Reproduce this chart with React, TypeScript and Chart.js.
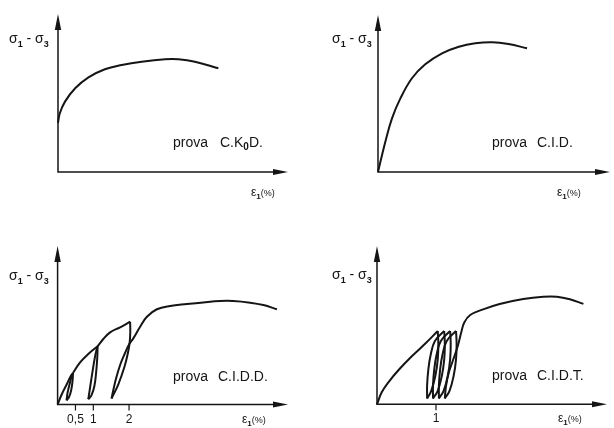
import React, { useEffect, useRef } from "react";
import { Chart, registerables } from "chart.js";

Chart.register(...registerables);

type Pt = [number, number];

// ε1 (%) on x, σ1 - σ3 (arbitrary units) on y

// prova C.K0D.
const ckodCurve: Pt[] = [
  [0, 3.27], [0.05, 3.9], [0.2, 4.69], [0.49, 5.58], [0.87, 6.31], [1.34, 6.85],
  [1.82, 7.13], [2.39, 7.35], [3.06, 7.51], [3.44, 7.51], [3.91, 7.35], [4.58, 6.91],
];

// prova C.I.D.
const cidCurve: Pt[] = [
  [0, 0], [0.21, 2.02], [0.4, 3.58], [0.64, 4.91], [0.97, 6.25],
  [1.35, 7.18], [1.83, 7.91], [2.31, 8.35], [2.78, 8.58], [3.26, 8.65], [3.73, 8.53], [4.26, 8.25],
];

// prova C.I.D.D. : loading, then unload/reload cycles at 0.5, 1 and 2 %
const ciddLoad1: Pt[] = [[0, 0], [0.12, 0.7], [0.26, 1.37], [0.37, 1.9], [0.43, 2.1]];
const ciddUnload1: Pt[] = [[0.43, 2.1], [0.42, 1.6], [0.38, 0.95], [0.32, 0.5], [0.25, 0.27]];
const ciddReload1: Pt[] = [[0.25, 0.27], [0.28, 0.8], [0.34, 1.4], [0.39, 1.85], [0.43, 2.1]];
const ciddLoad2: Pt[] = [[0.43, 2.1], [0.63, 2.81], [0.86, 3.37], [1.12, 3.88]];
const ciddUnload2: Pt[] = [[1.12, 3.88], [1.11, 3.1], [1.08, 2.17], [1.03, 1.23], [0.95, 0.63], [0.86, 0.35]];
const ciddReload2: Pt[] = [[0.86, 0.35], [0.89, 0.83], [0.95, 1.77], [1.02, 2.83], [1.08, 3.55], [1.12, 3.88]];
const ciddLoad3: Pt[] = [[1.12, 3.88], [1.28, 4.37], [1.47, 4.81], [1.75, 5.15], [2.03, 5.52]];
const ciddUnload3: Pt[] = [[2.03, 5.52], [2.035, 4.9], [2.02, 4.2], [1.97, 3.45], [1.87, 2.5], [1.7, 1.35], [1.51, 0.4]];
const ciddReload3: Pt[] = [
  [1.51, 0.4], [1.56, 0.97], [1.64, 1.77], [1.76, 2.7], [1.89, 3.45], [2.0, 4.0], [2.12, 4.41],
  [2.31, 5.19], [2.5, 5.85], [2.78, 6.35], [3.15, 6.57], [3.62, 6.7], [4.08, 6.81], [4.55, 6.9],
  [4.92, 6.9], [5.39, 6.79], [5.76, 6.63], [6.14, 6.35],
];
const ciddTicks = [0.5, 1, 2];
const ciddTickLabels = ["0,5", "1", "2"];

// prova C.I.D.T. : loading, then repeated cycles around 1 %
const cidtLoad: Pt[] = [[0, 0], [0.08, 0.8], [0.2, 1.5], [0.37, 2.3], [0.59, 3.2], [0.82, 4.05], [1.03, 4.89]];
const cidtUnload1: Pt[] = [[1.03, 4.89], [1.04, 4.0], [1.03, 3.0], [0.99, 1.9], [0.92, 0.9], [0.85, 0.39]];
const cidtReload1: Pt[] = [[0.85, 0.39], [0.85, 1.3], [0.87, 2.3], [0.91, 3.3], [0.98, 4.2], [1.14, 4.89]];
const cidtUnload2: Pt[] = [[1.14, 4.89], [1.15, 4.0], [1.14, 3.0], [1.1, 1.9], [1.03, 0.9], [0.95, 0.39]];
const cidtReload2: Pt[] = [[0.95, 0.39], [0.95, 1.3], [0.97, 2.3], [1.01, 3.3], [1.08, 4.2], [1.24, 4.89]];
const cidtUnload3: Pt[] = [[1.24, 4.89], [1.25, 4.0], [1.24, 3.0], [1.2, 1.9], [1.13, 0.9], [1.05, 0.39]];
const cidtReload3: Pt[] = [[1.05, 0.39], [1.05, 1.3], [1.07, 2.3], [1.11, 3.3], [1.18, 4.2], [1.34, 4.89]];
const cidtUnload4: Pt[] = [[1.34, 4.89], [1.35, 4.0], [1.34, 3.0], [1.3, 1.9], [1.23, 0.9], [1.15, 0.39]];
const cidtReloadFinal: Pt[] = [
  [1.15, 0.39], [1.17, 1.22], [1.22, 2.15], [1.29, 2.95], [1.37, 3.89], [1.43, 4.82], [1.48, 5.45],
  [1.58, 5.95], [1.8, 6.33], [2.08, 6.69], [2.48, 7.02], [2.82, 7.17], [3.05, 7.17], [3.27, 7.0], [3.5, 6.69],
];
const cidtTicks = [1];
const cidtTickLabels = ["1"];

const INK = "#151515";
const FONT = '"Liberation Sans", Arial, sans-serif';

interface Run { text: string; size: number; bold?: boolean; dy?: number }

function drawRuns(ctx: CanvasRenderingContext2D, x: number, y: number, runs: Run[]) {
  let cx = x;
  for (const r of runs) {
    ctx.font = `${r.bold ? "bold " : ""}${r.size}px ${FONT}`;
    ctx.fillText(r.text, cx, y + (r.dy ?? 0));
    cx += ctx.measureText(r.text).width;
  }
}

interface PanelCfg {
  left: number;
  top: number;
  padding: { left: number; top: number; right: number; bottom: number };
  xMax: number;
  yMax: number;
  branches: Pt[][];
  ticks: number[];
  tickLabels: string[];
  tickBaseline: number;
  sigma: [number, number];
  eps: [number, number];
  prova: [number, number];
  code: number;
  codeRuns: Run[];
}

const sketchAxes = {
  id: "sketchAxes",
  beforeDatasetsDraw(chart: any) {
    const ctx: CanvasRenderingContext2D = chart.ctx;
    const xs = chart.scales.x;
    const ys = chart.scales.y;
    const ox = xs.getPixelForValue(xs.min);
    const oy = ys.getPixelForValue(ys.min);
    const tx = xs.getPixelForValue(xs.max);
    const ty = ys.getPixelForValue(ys.max);
    ctx.save();
    ctx.strokeStyle = INK;
    ctx.fillStyle = INK;
    ctx.lineWidth = 1.5;
    ctx.beginPath();
    ctx.moveTo(ox, ty + 10);
    ctx.lineTo(ox, oy);
    ctx.lineTo(tx - 10, oy);
    ctx.stroke();
    // arrowheads
    ctx.beginPath();
    ctx.moveTo(ox, ty);
    ctx.lineTo(ox - 3.2, ty + 16);
    ctx.lineTo(ox + 3.2, ty + 16);
    ctx.closePath();
    ctx.fill();
    ctx.beginPath();
    ctx.moveTo(tx, oy);
    ctx.lineTo(tx - 15, oy - 3);
    ctx.lineTo(tx - 15, oy + 3);
    ctx.closePath();
    ctx.fill();
    ctx.restore();
  },
  afterDraw(chart: any, _args: any, opts: any) {
    const cfg: PanelCfg = opts.cfg;
    const ctx: CanvasRenderingContext2D = chart.ctx;
    const xs = chart.scales.x;
    const ys = chart.scales.y;
    const oy = ys.getPixelForValue(ys.min);
    ctx.save();
    ctx.fillStyle = INK;
    ctx.strokeStyle = INK;
    ctx.textBaseline = "alphabetic";
    // strain ticks
    ctx.lineWidth = 1.2;
    cfg.ticks.forEach((v, i) => {
      const px = xs.getPixelForValue(v);
      ctx.beginPath();
      ctx.moveTo(px, oy);
      ctx.lineTo(px, oy + 6);
      ctx.stroke();
      ctx.font = `12px ${FONT}`;
      ctx.textAlign = "center";
      ctx.fillText(cfg.tickLabels[i], px, cfg.tickBaseline);
    });
    ctx.textAlign = "left";
    // axis titles
    drawRuns(ctx, cfg.sigma[0], cfg.sigma[1], [
      { text: "σ", size: 14 },
      { text: "1", size: 9, bold: true, dy: 4 },
      { text: " - ", size: 14 },
      { text: "σ", size: 14 },
      { text: "3", size: 9, bold: true, dy: 4 },
    ]);
    drawRuns(ctx, cfg.eps[0], cfg.eps[1], [
      { text: "ε", size: 12 },
      { text: "1", size: 8, bold: true, dy: 3 },
      { text: "(%)", size: 9 },
    ]);
    // test name
    drawRuns(ctx, cfg.prova[0], cfg.prova[1], [{ text: "prova", size: 14 }]);
    drawRuns(ctx, cfg.code, cfg.prova[1], cfg.codeRuns);
    ctx.restore();
  },
};

const panels: PanelCfg[] = [
  {
    left: 0, top: 0,
    padding: { left: 58, top: 14, right: 19, bottom: 42 },
    xMax: 6.57, yMax: 10.53,
    branches: [ckodCurve],
    ticks: [], tickLabels: [], tickBaseline: 0,
    sigma: [9, 43], eps: [251, 196], prova: [173, 146.5], code: 220,
    codeRuns: [
      { text: "C.K", size: 14 },
      { text: "0", size: 10, bold: true, dy: 3 },
      { text: "D.", size: 14 },
    ],
  },
  {
    left: 307, top: 0,
    padding: { left: 71, top: 15, right: 4, bottom: 42 },
    xMax: 6.63, yMax: 10.47,
    branches: [cidCurve],
    ticks: [], tickLabels: [], tickBaseline: 0,
    sigma: [25, 43], eps: [250, 196], prova: [185, 146.5], code: 230,
    codeRuns: [{ text: "C.I.D.", size: 14 }],
  },
  {
    left: 0, top: 214,
    padding: { left: 57.6, top: 32, right: 19, bottom: 23.5 },
    xMax: 6.45, yMax: 10.57,
    branches: [ciddLoad1, ciddUnload1, ciddReload1, ciddLoad2, ciddUnload2, ciddReload2, ciddLoad3, ciddUnload3, ciddReload3],
    ticks: ciddTicks, tickLabels: ciddTickLabels, tickBaseline: 209,
    sigma: [9, 65.5], eps: [242, 209], prova: [173, 166.5], code: 218,
    codeRuns: [{ text: "C.I.D.D.", size: 14 }],
  },
  {
    left: 307, top: 214,
    padding: { left: 70, top: 32, right: 7, bottom: 23.7 },
    xMax: 3.9, yMax: 10.55,
    branches: [cidtLoad, cidtUnload1, cidtReload1, cidtUnload2, cidtReload2, cidtUnload3, cidtReload3, cidtUnload4, cidtReloadFinal],
    ticks: cidtTicks, tickLabels: cidtTickLabels, tickBaseline: 208,
    sigma: [25, 65], eps: [251, 208], prova: [185, 165.5], code: 230,
    codeRuns: [{ text: "C.I.D.T.", size: 14 }],
  },
];

function Panel({ cfg }: { cfg: PanelCfg }) {
  const ref = useRef<HTMLCanvasElement>(null);
  useEffect(() => {
    const chart = new Chart(ref.current as HTMLCanvasElement, {
      type: "line",
      data: {
        datasets: cfg.branches.map((b) => ({
          data: b.map(([x, y]) => ({ x, y })),
          borderColor: INK,
          borderWidth: 2,
          pointRadius: 0,
          tension: 0.4,
          fill: false,
          clip: false as any,
        })),
      },
      options: {
        responsive: false,
        animation: false,
        devicePixelRatio: 1,
        events: [],
        layout: { padding: cfg.padding },
        scales: {
          x: { type: "linear", display: false, min: 0, max: cfg.xMax },
          y: { type: "linear", display: false, min: 0, max: cfg.yMax },
        },
        plugins: {
          legend: { display: false },
          tooltip: { enabled: false },
          sketchAxes: { cfg },
        } as any,
      },
      plugins: [sketchAxes],
    });
    return () => chart.destroy();
  }, [cfg]);
  return (
    <canvas
      ref={ref}
      width={307}
      height={214}
      style={{ position: "absolute", left: cfg.left, top: cfg.top, width: 307, height: 214 }}
    />
  );
}

export default function App() {
  return (
    <div style={{ position: "absolute", left: 0, top: 0, width: 614, height: 428, background: "#fff" }}>
      {panels.map((p, i) => (
        <Panel key={i} cfg={p} />
      ))}
    </div>
  );
}
